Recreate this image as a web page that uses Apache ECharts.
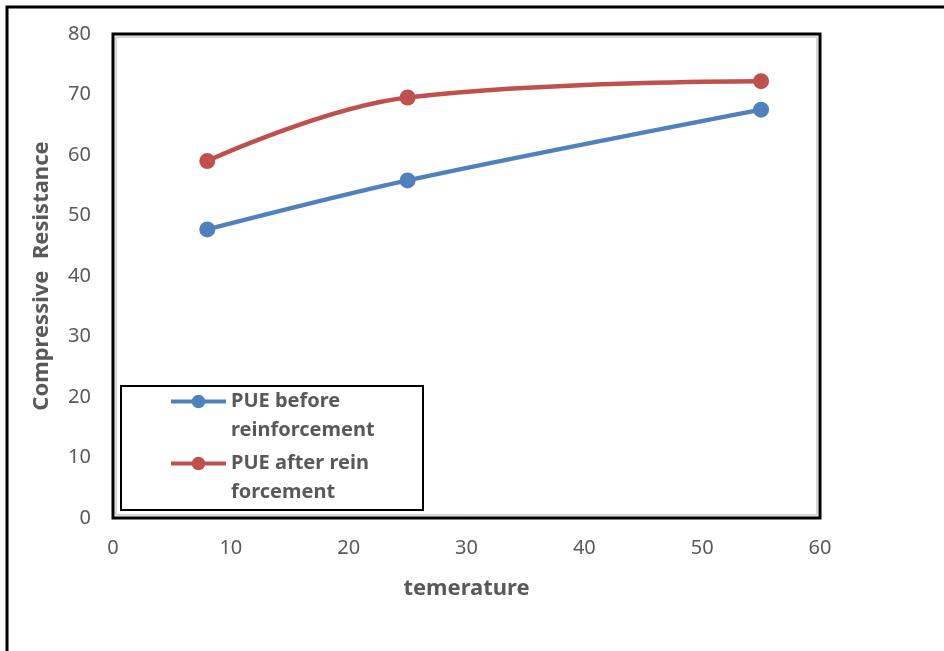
<!DOCTYPE html>
<html>
<head>
<meta charset="utf-8">
<script src="https://cdn.jsdelivr.net/npm/echarts@6/dist/echarts.min.js"></script>
<style>
  html, body { margin: 0; padding: 0; background: #fff; }
  #chart { width: 944px; height: 651px; }
</style>
</head>
<body>
<div id="chart"></div>
<script>
// temperature vs compressive resistance
const temps = [8, 25, 55];
const beforeVals = [47.7, 55.8, 67.5];
const afterVals = [59, 69.5, 72.2];
const seriesNames = ['PUE before\nreinforcement', 'PUE after rein\nforcement'];
const FONT = '"Noto Sans", sans-serif';

const chart = echarts.init(document.getElementById('chart'));

function pairs(xs, ys) {
    return xs.map((x, i) => [x, ys[i]]);
}

const option = {
    animation: false,
    textStyle: { fontFamily: FONT },
    grid: {
        left: 113, right: 124, top: 34, bottom: 133,
        show: true, borderColor: '#000', borderWidth: 3
    },
    graphic: [
        // outer frame (only top and left visible in picture)
        { type: 'rect', shape: { x: 7, y: 7, width: 960, height: 660 },
          style: { fill: 'none', stroke: '#000', lineWidth: 3 }, silent: true },
        // thin grey inner line of the plot frame
        { type: 'rect', shape: { x: 116, y: 37, width: 701, height: 478 },
          style: { fill: 'none', stroke: '#b0b0b0', lineWidth: 1 }, silent: true },
        // legend box
        { type: 'rect', shape: { x: 121, y: 386, width: 302, height: 124 },
          style: { fill: '#fff', stroke: '#000', lineWidth: 2 }, z: 10, silent: true }
    ],
    legend: {
        orient: 'vertical',
        left: 169,
        top: 358,
        padding: 0,
        itemGap: -25,
        itemWidth: 55,
        itemHeight: 17,
        z: 20,
        data: seriesNames,
        lineStyle: { width: 4 },
        // leading blank line keeps the marker level with the first text line
        formatter: name => ' \n' + name,
        textStyle: {
            fontFamily: FONT, fontSize: 20, fontWeight: 'bold', color: '#595959',
            lineHeight: 29
        }
    },
    xAxis: {
        type: 'value', min: 0, max: 60, interval: 10,
        name: 'temerature', nameLocation: 'middle', nameGap: 60,
        nameTextStyle: { fontSize: 22, fontWeight: 'bold', color: '#595959' },
        axisLine: { show: false },
        axisTick: { show: false },
        splitLine: { show: false },
        axisLabel: { fontSize: 20, color: '#595959', margin: 20 }
    },
    yAxis: {
        type: 'value', min: 0, max: 80, interval: 10,
        name: 'Compressive  Resistance', nameLocation: 'middle', nameGap: 60,
        nameTextStyle: { fontSize: 22, fontWeight: 'bold', color: '#595959' },
        axisLine: { show: false },
        axisTick: { show: false },
        splitLine: { show: false },
        axisLabel: { fontSize: 20, color: '#595959', margin: 22 }
    },
    series: [
        {
            name: seriesNames[0], type: 'line', smooth: 0.3,
            data: pairs(temps, beforeVals),
            symbol: 'circle', symbolSize: 16,
            lineStyle: { width: 4.5, color: '#4F81BD' },
            itemStyle: { color: '#4F81BD' }
        },
        {
            name: seriesNames[1], type: 'line', smooth: 0.4,
            data: pairs(temps, afterVals),
            symbol: 'circle', symbolSize: 16,
            lineStyle: { width: 4.5, color: '#C0504D' },
            itemStyle: { color: '#C0504D' }
        }
    ]
};

chart.setOption(option);
</script>
</body>
</html>
